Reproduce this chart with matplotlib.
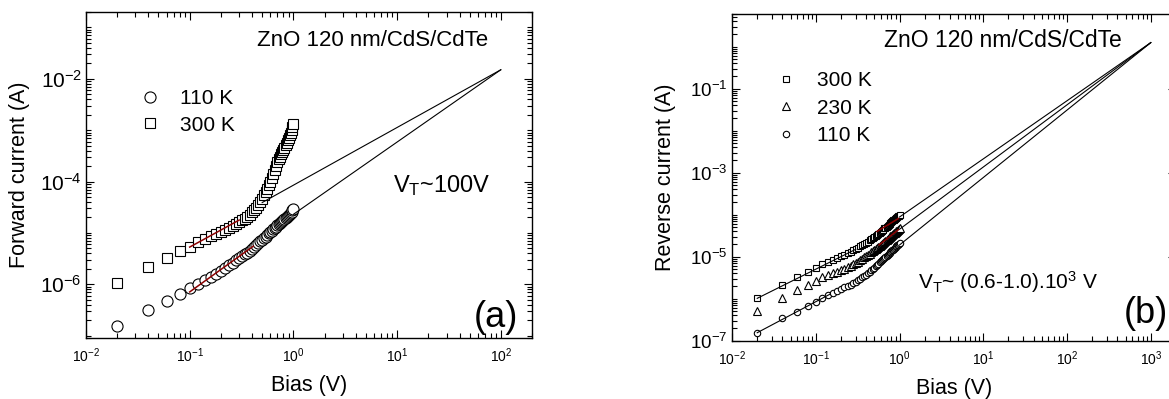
import numpy as np
import matplotlib
matplotlib.use("Agg")
import matplotlib.pyplot as plt
from matplotlib.ticker import FixedLocator, LogLocator, NullFormatter, LogFormatterSciNotation
from matplotlib.lines import Line2D

plt.rcParams['font.family'] = ['Liberation Sans', 'DejaVu Sans']
plt.rcParams['mathtext.fontset'] = 'custom'
plt.rcParams['mathtext.rm'] = 'Liberation Sans'
plt.rcParams['mathtext.it'] = 'Liberation Sans:italic'
plt.rcParams['mathtext.default'] = 'regular'

# bias points (V), shared by every measured series
bias = [0.02, 0.04, 0.06, 0.08, 0.10, 0.12, 0.14, 0.16, 0.18, 0.20,
        0.22, 0.24, 0.26, 0.28, 0.30, 0.32, 0.34, 0.36, 0.38, 0.40,
        0.42, 0.44, 0.46, 0.48, 0.50, 0.52, 0.54, 0.56, 0.58, 0.60,
        0.62, 0.64, 0.66, 0.68, 0.70, 0.72, 0.74, 0.76, 0.78, 0.80,
        0.82, 0.84, 0.86, 0.88, 0.90, 0.92, 0.94, 0.96, 0.98, 1.00]

# (a) forward current (A)
fwd_300 = [1.05e-6, 2.2e-6, 3.2e-6, 4.4e-6, 5.4e-6, 6.6e-6, 7.7e-6, 8.7e-6, 9.5e-6, 1.04e-5,
           1.14e-5, 1.26e-5, 1.39e-5, 1.52e-5, 1.66e-5, 1.78e-5, 1.9e-5, 2.04e-5, 2.25e-5, 2.5e-5,
           2.8e-5, 3.1e-5, 3.5e-5, 4.0e-5, 4.6e-5, 5.4e-5, 6.3e-5, 7.3e-5, 8.5e-5, 1.0e-4,
           1.18e-4, 1.42e-4, 1.7e-4, 2.0e-4, 2.35e-4, 2.7e-4, 3.05e-4, 3.4e-4, 3.75e-4, 4.1e-4,
           4.6e-4, 5.1e-4, 5.7e-4, 6.4e-4, 7.1e-4, 8.0e-4, 8.9e-4, 1.0e-3, 1.15e-3, 1.3e-3]
fwd_110 = [1.55e-7, 3.1e-7, 4.8e-7, 6.6e-7, 8.3e-7, 1.0e-6, 1.2e-6, 1.4e-6, 1.62e-6, 1.85e-6,
           2.1e-6, 2.38e-6, 2.65e-6, 2.95e-6, 3.25e-6, 3.55e-6, 3.85e-6, 4.15e-6, 4.5e-6, 4.9e-6,
           5.3e-6, 5.8e-6, 6.3e-6, 6.9e-6, 7.4e-6, 7.9e-6, 8.5e-6, 9.1e-6, 9.8e-6, 1.05e-5,
           1.1e-5, 1.17e-5, 1.25e-5, 1.33e-5, 1.42e-5, 1.5e-5, 1.56e-5, 1.63e-5, 1.7e-5, 1.77e-5,
           1.85e-5, 1.93e-5, 2.02e-5, 2.12e-5, 2.22e-5, 2.35e-5, 2.48e-5, 2.6e-5, 2.75e-5, 2.9e-5]

# (a) fitted lines
fit_a300_x, fit_a300_y = [0.5, 100], [3.9e-5, 1.5e-2]
fit_a110_x, fit_a110_y = [1.0, 100], [2.3e-5, 1.5e-2]
red_a300_x, red_a300_y = [0.1, 0.3], [5.3e-6, 1.78e-5]
red_a110_x, red_a110_y = [0.1, 0.41], [7.1e-7, 5.5e-6]

# (b) reverse current (A)
rev_300 = [1.02e-6, 2.1e-6, 3.2e-6, 4.4e-6, 5.5e-6, 6.6e-6, 7.4e-6, 8.3e-6, 9.2e-6, 1.02e-5,
           1.12e-5, 1.22e-5, 1.32e-5, 1.42e-5, 1.52e-5, 1.63e-5, 1.75e-5, 1.88e-5, 2.02e-5, 2.15e-5,
           2.3e-5, 2.45e-5, 2.6e-5, 2.78e-5, 2.95e-5, 3.12e-5, 3.3e-5, 3.5e-5, 3.7e-5, 3.9e-5,
           4.15e-5, 4.4e-5, 4.7e-5, 4.95e-5, 5.2e-5, 5.5e-5, 5.8e-5, 6.1e-5, 6.4e-5, 6.7e-5,
           7.0e-5, 7.3e-5, 7.6e-5, 7.9e-5, 8.2e-5, 8.5e-5, 8.8e-5, 9.1e-5, 9.4e-5, 9.7e-5]
rev_230 = [5.2e-7, 1.06e-6, 1.6e-6, 2.1e-6, 2.6e-6, 3.2e-6, 3.6e-6, 4.0e-6, 4.4e-6, 4.8e-6,
           5.2e-6, 5.6e-6, 6.1e-6, 6.6e-6, 7.0e-6, 7.6e-6, 8.2e-6, 8.9e-6, 9.6e-6, 1.03e-5,
           1.1e-5, 1.18e-5, 1.26e-5, 1.34e-5, 1.42e-5, 1.5e-5, 1.6e-5, 1.7e-5, 1.8e-5, 1.92e-5,
           2.04e-5, 2.16e-5, 2.28e-5, 2.4e-5, 2.52e-5, 2.64e-5, 2.76e-5, 2.9e-5, 3.04e-5, 3.18e-5,
           3.32e-5, 3.46e-5, 3.6e-5, 3.75e-5, 3.9e-5, 4.05e-5, 4.2e-5, 4.4e-5, 4.6e-5, 4.8e-5]
rev_110 = [1.55e-7, 3.4e-7, 4.9e-7, 6.7e-7, 8.5e-7, 1.05e-6, 1.22e-6, 1.38e-6, 1.55e-6, 1.7e-6,
           1.85e-6, 2.0e-6, 2.17e-6, 2.35e-6, 2.55e-6, 2.75e-6, 2.98e-6, 3.2e-6, 3.45e-6, 3.7e-6,
           4.0e-6, 4.35e-6, 4.7e-6, 5.1e-6, 5.5e-6, 5.9e-6, 6.3e-6, 6.8e-6, 7.3e-6, 7.8e-6,
           8.3e-6, 8.8e-6, 9.3e-6, 9.8e-6, 1.04e-5, 1.1e-5, 1.16e-5, 1.22e-5, 1.28e-5, 1.34e-5,
           1.41e-5, 1.48e-5, 1.55e-5, 1.62e-5, 1.7e-5, 1.78e-5, 1.86e-5, 1.94e-5, 2.02e-5, 2.1e-5]

# (b) fitted lines
low_b300_x, low_b300_y = [0.02, 0.3], [1.02e-6, 1.5e-5]
low_b110_x, low_b110_y = [0.02, 0.15], [1.55e-7, 1.3e-6]
high_b_x = [1.0, 1000]
high_b300_y = [8.8e-5, 1.25]
high_b230_y = [4.5e-5, 1.25]
high_b110_y = [1.9e-5, 1.25]
red_b300_x, red_b300_y = [0.54, 0.97], [4.0e-5, 8.1e-5]
red_b230_x, red_b230_y = [0.57, 0.97], [1.9e-5, 4.4e-5]

RED = '#8b0000'


def style_axis(ax, yticks, ylabel, ytick_size):
    ax.set_xscale('log')
    ax.set_yscale('log')
    ax.xaxis.set_major_locator(LogLocator(base=10, numticks=20))
    ax.xaxis.set_minor_locator(LogLocator(base=10, subs=np.arange(2, 10), numticks=50))
    ax.yaxis.set_major_locator(FixedLocator(yticks))
    ax.yaxis.set_minor_locator(LogLocator(base=10, subs=np.arange(1, 10), numticks=50))
    ax.xaxis.set_major_formatter(LogFormatterSciNotation())
    ax.yaxis.set_major_formatter(LogFormatterSciNotation())
    ax.xaxis.set_minor_formatter(NullFormatter())
    ax.yaxis.set_minor_formatter(NullFormatter())
    ax.tick_params(which='both', direction='in', top=True, right=True, width=0.8)
    ax.tick_params(which='major', length=6)
    ax.tick_params(which='minor', length=3.5)
    ax.tick_params(axis='x', which='major', labelsize=10, pad=6)
    ax.tick_params(axis='y', which='major', labelsize=ytick_size, pad=3)
    for s in ax.spines.values():
        s.set_linewidth(1.0)
    ax.set_xlabel('Bias (V)', fontsize=15.5)
    ax.set_ylabel(ylabel, fontsize=15.5)
    ax.xaxis.set_label_coords(0.5, -0.115)
    ax.yaxis.set_label_coords(-0.126, 0.5)


fig = plt.figure(figsize=(11.69, 3.99), dpi=100)

# ---- panel (a)
ax1 = fig.add_axes([86 / 1169, (399 - 338) / 399, 446 / 1169, 326 / 399])
mk = dict(linestyle='none', markerfacecolor='white', markeredgecolor='black', markeredgewidth=0.8)
ax1.plot(bias, fwd_300, marker='s', markersize=7.2, **mk, zorder=2)
ax1.plot(bias, fwd_110, marker='o', markersize=8, **mk, zorder=2)
ax1.plot(fit_a300_x, fit_a300_y, color='black', lw=0.8, zorder=3)
ax1.plot(fit_a110_x, fit_a110_y, color='black', lw=0.8, zorder=3)
ax1.plot(red_a300_x, red_a300_y, color=RED, lw=1.1, zorder=4)
ax1.plot(red_a110_x, red_a110_y, color=RED, lw=1.1, zorder=4)
ax1.set_xlim(0.01, 200)
ax1.set_ylim(9e-8, 0.2)
style_axis(ax1, [1e-2, 1e-4, 1e-6], 'Forward current (A)', 15)

handles_a = [Line2D([], [], marker='o', markersize=8, **mk),
             Line2D([], [], marker='s', markersize=7.2, **mk)]
ax1.legend(handles_a, ['110 K', '300 K'], loc='upper left', bbox_to_anchor=(0.120, 0.763),
           frameon=False, fontsize=15, handlelength=1.0, handletextpad=0.94,
           labelspacing=0.36, borderpad=0, borderaxespad=0)
ax1.text(0.901, 0.914, 'ZnO 120 nm/CdS/CdTe', transform=ax1.transAxes,
         ha='right', va='center', fontsize=16)
ax1.text(0.688, 0.469, r'V$_\mathregular{T}$~100V', transform=ax1.transAxes,
         ha='left', va='center', fontsize=17)
ax1.text(0.969, 0.01, '(a)', transform=ax1.transAxes, ha='right', va='bottom', fontsize=26)

# ---- panel (b)
ax2 = fig.add_axes([732 / 1169, (399 - 340.7) / 399, 444 / 1169, 326.7 / 399])
ax2.plot(bias, rev_300, marker='s', markersize=4.4, **mk, zorder=2)
ax2.plot(bias, rev_230, marker='^', markersize=5.2, **mk, zorder=2)
ax2.plot(bias, rev_110, marker='o', markersize=4.6, **mk, zorder=2)
ax2.plot(low_b300_x, low_b300_y, color='black', lw=0.8, zorder=3)
ax2.plot(low_b110_x, low_b110_y, color='black', lw=0.8, zorder=3)
for yy in (high_b300_y, high_b230_y, high_b110_y):
    ax2.plot(high_b_x, yy, color='black', lw=0.8, zorder=3)
ax2.plot(red_b300_x, red_b300_y, color=RED, lw=1.1, zorder=4)
ax2.plot(red_b230_x, red_b230_y, color=RED, lw=1.1, zorder=4)
ax2.set_xlim(0.01, 2000)
ax2.set_ylim(1e-7, 6.0)
style_axis(ax2, [1e-1, 1e-3, 1e-5, 1e-7], 'Reverse current (A)', 13.5)

handles_b = [Line2D([], [], marker='s', markersize=4.4, **mk),
             Line2D([], [], marker='^', markersize=5.2, **mk),
             Line2D([], [], marker='o', markersize=4.6, **mk)]
ax2.legend(handles_b, ['300 K', '230 K', '110 K'], loc='upper left', bbox_to_anchor=(0.0975, 0.825),
           frameon=False, fontsize=15, handlelength=1.0, handletextpad=0.99,
           labelspacing=0.41, borderpad=0, borderaxespad=0)
ax2.text(0.878, 0.920, 'ZnO 120 nm/CdS/CdTe', transform=ax2.transAxes,
         ha='right', va='center', fontsize=16.5)
ax2.text(0.419, 0.178, r'V$_\mathregular{T}$~ (0.6-1.0).10$^\mathregular{3}$ V', transform=ax2.transAxes,
         ha='left', va='center', fontsize=15)
ax2.text(0.982, 0.03, '(b)', transform=ax2.transAxes, ha='right', va='bottom', fontsize=26)

fig.savefig('out.png', dpi=100)
